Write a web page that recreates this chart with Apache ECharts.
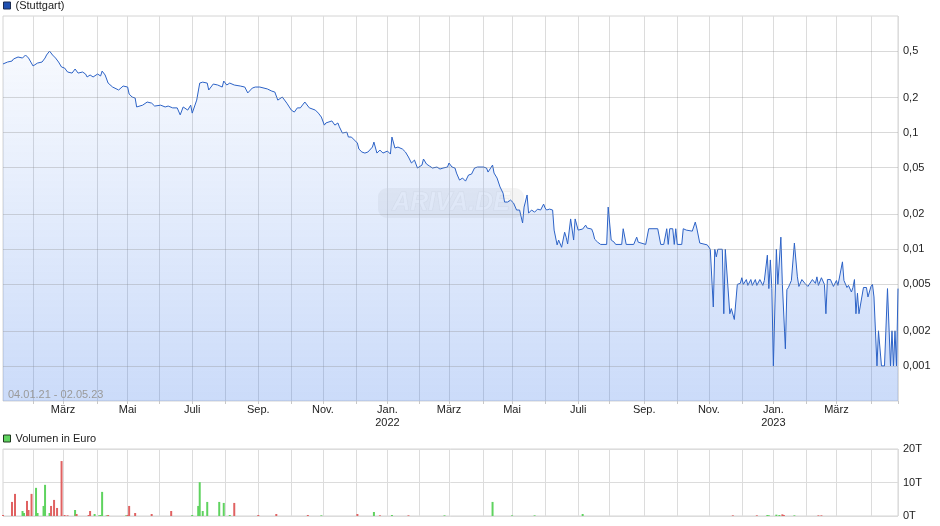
<!DOCTYPE html>
<html><head><meta charset="utf-8">
<script src="https://cdn.jsdelivr.net/npm/echarts@6/dist/echarts.min.js"></script>
<style>html,body{margin:0;padding:0;background:#fff}#c{width:940px;height:526px}</style>
</head><body><div id="c"></div>
<script>
// ---- data ----
const holidays = ['2021-04-02','2021-04-05','2021-12-24','2021-12-31','2022-04-15','2022-04-18','2022-12-26','2023-04-07','2023-04-10','2023-05-01'];
const monthNames = ['Jan.','Feb.','März','Apr.','Mai','Juni','Juli','Aug.','Sep.','Okt.','Nov.','Dez.'];
const priceTicks = [0.5,0.2,0.1,0.05,0.02,0.01,0.005,0.002,0.001];
const rangeLabel = '04.01.21 - 02.05.23';
// [trading day number since 04.01.21, price in EUR]
const stuttgartPrice = [[0,0.388],[3,0.403],[6,0.411],[7,0.428],[10,0.445],[13,0.436],[15,0.463],[17,0.436],[20,0.373],[23,0.395],[26,0.403],[28,0.436],[29,0.463],[31,0.50],[33,0.463],[35,0.436],[37,0.403],[39,0.365],[41,0.358],[43,0.331],[46,0.324],[48,0.351],[50,0.324],[53,0.331],[55,0.318],[56,0.300],[58,0.312],[60,0.300],[63,0.318],[65,0.306],[66,0.337],[68,0.312],[70,0.266],[73,0.246],[77,0.232],[80,0.251],[83,0.246],[84,0.214],[86,0.202],[88,0.198],[89,0.166],[93,0.172],[96,0.183],[99,0.179],[101,0.169],[105,0.172],[108,0.166],[110,0.169],[113,0.163],[116,0.163],[118,0.142],[120,0.166],[123,0.156],[125,0.172],[126,0.147],[129,0.190],[131,0.266],[133,0.271],[136,0.266],[137,0.232],[140,0.261],[143,0.256],[146,0.246],[147,0.277],[149,0.256],[151,0.266],[154,0.256],[158,0.251],[161,0.246],[163,0.219],[166,0.241],[168,0.246],[171,0.246],[176,0.237],[179,0.227],[181,0.223],[183,0.190],[186,0.202],[189,0.179],[192,0.156],[194,0.150],[196,0.163],[198,0.163],[201,0.183],[204,0.163],[208,0.156],[210,0.147],[212,0.136],[214,0.116],[215,0.121],[216,0.121],[219,0.126],[221,0.116],[223,0.121],[224,0.112],[226,0.0992],[229,0.101],[230,0.0917],[232,0.0917],[234,0.0864],[236,0.0814],[237,0.0723],[239,0.0682],[241,0.0668],[243,0.0682],[246,0.0752],[247,0.0830],[249,0.0668],[251,0.0709],[253,0.0668],[256,0.0695],[258,0.0655],[259,0.0917],[261,0.0738],[263,0.0752],[266,0.0723],[268,0.0682],[270,0.0618],[272,0.0549],[274,0.0582],[276,0.0497],[279,0.0527],[280,0.0594],[282,0.0538],[284,0.0517],[286,0.0497],[289,0.0507],[291,0.0487],[293,0.0497],[296,0.0507],[297,0.0549],[299,0.0507],[301,0.0497],[302,0.0450],[304,0.0392],[306,0.0408],[308,0.0384],[310,0.0433],[312,0.0441],[314,0.0497],[316,0.0507],[320,0.0507],[322,0.0497],[323,0.0459],[326,0.0527],[327,0.0450],[329,0.0408],[331,0.0342],[333,0.0303],[334,0.0254],[336,0.0254],[338,0.0264],[340,0.0249],[342,0.0217],[344,0.0217],[346,0.0168],[347,0.0230],[349,0.0292],[350,0.0204],[352,0.0217],[354,0.0208],[356,0.0221],[358,0.0217],[360,0.0244],[361,0.0226],[362,0.0217],[364,0.0221],[366,0.0217],[367,0.0146],[369,0.0109],[370,0.0120],[372,0.0104],[374,0.0140],[375,0.0127],[376,0.0111],[378,0.0182],[380,0.0120],[381,0.0182],[383,0.0146],[386,0.0149],[388,0.0161],[389,0.0152],[392,0.0149],[393,0.0138],[394,0.0122],[396,0.0115],[398,0.011],[402,0.011],[403,0.023],[405,0.012],[407,0.0115],[408,0.011],[412,0.011],[413,0.015],[414,0.015],[415,0.011],[420,0.011],[422,0.0127],[423,0.0115],[428,0.011],[430,0.015],[436,0.015],[438,0.011],[440,0.011],[442,0.015],[443,0.011],[444,0.015],[446,0.015],[447,0.011],[448,0.015],[449,0.011],[452,0.011],[453,0.015],[455,0.0146],[459,0.0143],[461,0.0171],[462,0.0152],[463,0.0155],[464,0.0113],[469,0.0109],[471,0.01],[473,0.0032],[474,0.01],[475,0.0086],[476,0.01],[479,0.01],[480,0.0028],[481,0.01],[482,0.01],[484,0.0028],[485,0.0031],[487,0.0025],[489,0.005],[491,0.0051],[492,0.0057],[493,0.005],[495,0.0055],[496,0.0049],[498,0.0055],[499,0.0049],[501,0.0055],[502,0.0049],[504,0.0055],[506,0.0049],[507,0.0054],[509,0.0089],[510,0.0046],[511,0.0081],[512,0.0046],[513,0.001],[514,0.001],[515,0.01],[516,0.005],[518,0.0127],[519,0.005],[521,0.0014],[522,0.0045],[523,0.0047],[525,0.0054],[527,0.0113],[529,0.0058],[530,0.0048],[532,0.0055],[534,0.0051],[536,0.0048],[539,0.0055],[541,0.0051],[542,0.0058],[543,0.0049],[545,0.0057],[547,0.005],[548,0.0028],[549,0.0055],[551,0.0055],[553,0.0048],[555,0.0054],[556,0.0049],[559,0.0078],[560,0.0054],[561,0.0055],[562,0.0047],[563,0.0049],[565,0.0043],[566,0.0047],[567,0.0055],[568,0.0028],[569,0.0042],[570,0.0028],[571,0.0029],[573,0.0047],[575,0.0047],[576,0.0039],[578,0.0048],[579,0.005],[580,0.0039],[582,0.001],[583,0.002],[585,0.001],[587,0.001],[589,0.0046],[591,0.001],[592,0.002],[593,0.001],[594,0.002],[595,0.001],[596,0.0046]];
// [trading day number, volume in EUR]
const volumeUp = [[13,1500],[14,900],[22,8400],[23,900],[27,3000],[28,9300],[31,900],[48,1800],[61,600],[64,200],[65,300],[66,7200],[69,200],[82,200],[126,300],[130,3000],[131,10100],[133,1500],[136,4200],[144,4200],[147,3900],[151,300],[212,200],[247,1200],[259,300],[294,200],[326,4200],[339,200],[354,200],[386,600],[509,300],[510,200],[515,400],[517,300],[527,200]];
const volumeDown = [[0,300],[6,4200],[8,6600],[16,4500],[17,1800],[19,6600],[32,3000],[34,4800],[36,2400],[39,16400],[41,300],[43,200],[49,600],[57,300],[58,1500],[70,300],[83,300],[84,3000],[88,900],[99,600],[112,1500],[154,3900],[170,300],[182,600],[203,300],[236,600],[251,200],[270,200],[486,200],[502,200],[519,500],[520,300],[543,200],[545,200]];

// ---- trading-day categories ----
const days = [];
for (let t = Date.UTC(2021,0,4); t <= Date.UTC(2023,4,2); t += 86400000) {
  const d = new Date(t), wd = d.getUTCDay(), s = d.toISOString().slice(0,10);
  if (wd !== 0 && wd !== 6 && holidays.indexOf(s) < 0) days.push(s);
}
const monthStart = i => i > 0 && days[i].slice(5,7) !== days[i-1].slice(5,7);
const labelMonth = i => monthStart(i) && i < days.length - 1 && (+days[i].slice(5,7) - 1) % 2 === 0;

const FONT = '"Liberation Sans", Arial, sans-serif';
const chart = echarts.init(document.getElementById('c'), null, {renderer:'canvas'});
chart.setOption({
  animation: false,
  textStyle: {fontFamily: FONT},
  legend: [
    {data:['(Stuttgart)'], left:3, top:0, padding:0, icon:'rect', itemWidth:7, itemHeight:7, selectedMode:false,
     textStyle:{fontSize:11, color:'#222', fontFamily:FONT}, itemStyle:{borderColor:'#1a2a50', borderWidth:1}},
    {data:['Volumen in Euro'], left:3, top:433, padding:0, icon:'rect', itemWidth:7, itemHeight:7, selectedMode:false,
     textStyle:{fontSize:11, color:'#222', fontFamily:FONT}, itemStyle:{borderColor:'#1f3a1f', borderWidth:1}}
  ],
  grid: [
    {left:3, top:16, width:895, height:385, show:true, borderColor:'#d4d4d4', borderWidth:1, outerBoundsMode:'none'},
    {left:3, top:449, width:895, height:67, show:true, borderColor:'#d4d4d4', borderWidth:1, outerBoundsMode:'none'}
  ],
  xAxis: [
    {type:'category', gridIndex:0, data:days, boundaryGap:false,
     axisLine:{show:false},
     axisTick:{show:true, interval:(i)=>monthStart(i), length:3, lineStyle:{color:'#c8c8c8'}},
     splitLine:{show:true, interval:(i)=>monthStart(i), lineStyle:{color:'#dcdcdc', width:1}},
     axisLabel:{interval:(i)=>labelMonth(i), hideOverlap:false, color:'#222', fontSize:11, margin:2, lineHeight:13, fontFamily:FONT,
       formatter:(v)=>{const m = +v.slice(5,7) - 1; return m === 0 ? monthNames[0] + '\n' + v.slice(0,4) : monthNames[m];}}},
    {type:'category', gridIndex:1, data:days, boundaryGap:false,
     axisLine:{show:false}, axisTick:{show:false}, axisLabel:{show:false},
     splitLine:{show:true, interval:(i)=>monthStart(i), lineStyle:{color:'#dcdcdc', width:1}}}
  ],
  yAxis: [
    {type:'log', logBase:10, gridIndex:0, position:'right', min:0.0005, max:1,
     axisLine:{show:false}, axisTick:{show:false}, axisLabel:{show:false}, splitLine:{show:false}},
    {type:'value', gridIndex:1, position:'right', min:0, max:20000, interval:10000,
     axisLine:{show:false}, axisTick:{show:false},
     splitLine:{show:true, lineStyle:{color:'#dcdcdc'}},
     axisLabel:{color:'#222', fontSize:11, margin:5, fontFamily:FONT, formatter:(v)=>(v/1000)+'T'}}
  ],
  series: [
    {type:'line', name:'(Stuttgart)', xAxisIndex:0, yAxisIndex:0, data:stuttgartPrice,
     showSymbol:false, symbol:'none', silent:true,
     lineStyle:{color:'#2c62c6', width:1}, itemStyle:{color:'#1f4fb0'},
     areaStyle:{origin:'start', color:new echarts.graphic.LinearGradient(0,0,0,1,[
       {offset:0, color:'rgba(30,100,230,0.05)'},{offset:1, color:'rgba(30,100,230,0.33)'}])},
     markLine:{silent:true, symbol:'none', animation:false, precision:4,
       lineStyle:{color:'rgba(140,140,140,0.33)', type:'solid', width:1},
       label:{show:true, position:'end', distance:5, color:'#222', fontSize:11, fontFamily:FONT,
         formatter:(p)=>String(p.value).replace('.', ',')},
       emphasis:{disabled:true},
       data: priceTicks.map(v=>({yAxis:v}))}},
    {type:'bar', name:'Volumen in Euro', xAxisIndex:1, yAxisIndex:1, barWidth:2, silent:true,
     itemStyle:{color:'#5fd35f'},
     data: volumeUp.map(p=>({value:p})).concat(volumeDown.map(p=>({value:p, itemStyle:{color:'#e06262'}})))}
  ],
  graphic: [
    {type:'group', left:378, top:188, silent:true, children:[
      {type:'rect', shape:{x:0, y:0, width:146, height:30, r:9}, style:{fill:'rgba(170,170,170,0.13)'}},
      {type:'text', x:73, y:15, style:{text:'ARIVA.DE', fill:'rgba(255,255,255,0.6)', stroke:'rgba(160,160,160,0.12)', lineWidth:1,
        font:'italic bold 25px ' + FONT, textAlign:'center', textVerticalAlign:'middle', align:'center', verticalAlign:'middle'}}
    ]},
    {type:'text', left:8, top:389, silent:true, z:100,
     style:{text:rangeLabel, fill:'#9a9a9a', font:'11px ' + FONT}}
  ]
});
</script>
</body></html>
